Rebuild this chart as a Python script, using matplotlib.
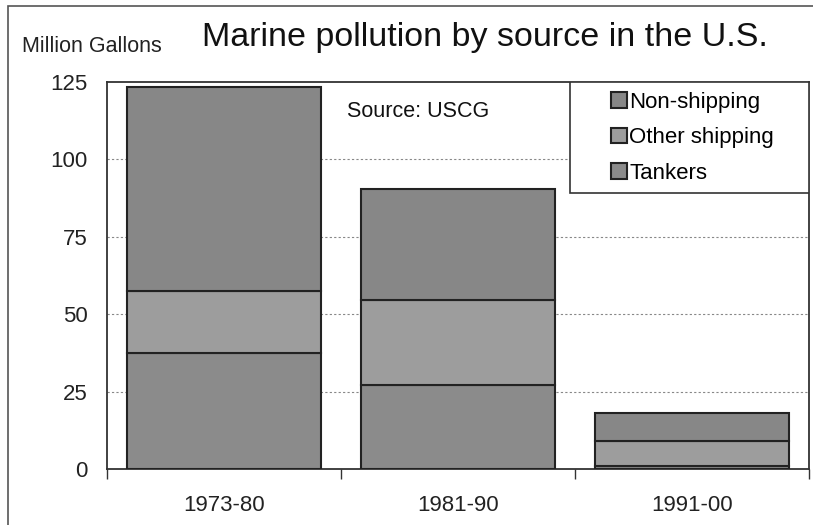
import matplotlib.pyplot as plt
from matplotlib.patches import Rectangle
import numpy as np

plt.rcParams['font.family'] = ['Liberation Sans', 'DejaVu Sans']

periods = ['1973-80', '1981-90', '1991-00']
tankers = [37.5, 27, 1]
other_shipping = [20, 27.5, 8]
non_shipping = [66, 36, 9]

fig = plt.figure(figsize=(8.13, 5.25), dpi=100)
ax = fig.add_axes([0.1316, 0.1067, 0.8635, 0.7371])

x = np.arange(len(periods))
w = 0.83
edge = dict(edgecolor='#222222', linewidth=1.5, zorder=3)
ax.bar(x, tankers, w, color='#8b8b8b', label='Tankers', **edge)
ax.bar(x, other_shipping, w, bottom=tankers, color='#9d9d9d', label='Other shipping', **edge)
bottom2 = [a + b for a, b in zip(tankers, other_shipping)]
ax.bar(x, non_shipping, w, bottom=bottom2, color='#878787', label='Non-shipping', **edge)

ax.set_xlim(-0.5, 2.5)
ax.set_ylim(0, 125)
ax.set_yticks([0, 25, 50, 75, 100, 125])
ax.set_xticks(x)
ax.set_xticklabels(periods)
ax.set_xticks([-0.5, 0.5, 1.5, 2.5], minor=True)
ax.tick_params(axis='x', which='major', length=0, pad=19, labelsize=16, labelcolor='#222222')
ax.tick_params(axis='x', which='minor', length=7, width=1, color='#333333')
ax.tick_params(axis='y', length=0, pad=14, labelsize=16, labelcolor='#222222')
for y in [25, 50, 75, 100]:
    ax.axhline(y, color='#888888', linestyle=(0, (2, 2)), linewidth=0.8, zorder=1)
for s in ax.spines.values():
    s.set_color('#333333')
    s.set_linewidth(1.3)

ax.text(0.342, 0.925, 'Source: USCG', transform=ax.transAxes, fontsize=15.5,
        va='center', ha='left', color='#111111')

# legend box
ax.add_patch(Rectangle((0.6595, 0.713), 0.3405, 0.287, transform=ax.transAxes,
                       facecolor='white', edgecolor='#333333', linewidth=1.2, zorder=4))
handles, labels = ax.get_legend_handles_labels()
leg = ax.legend(handles[::-1], labels[::-1], loc='upper left',
                bbox_to_anchor=(0.69, 1.027), frameon=False, fontsize=16,
                handlelength=0.7, handleheight=0.7, handletextpad=0.1,
                labelspacing=0.66)
leg.set_zorder(5)

fig.text(0.027, 0.911, 'Million Gallons', fontsize=15.5, va='center', ha='left',
         color='#222222')
fig.text(0.597, 0.928, 'Marine pollution by source in the U.S.', fontsize=24.5,
         va='center', ha='center', color='#111111')

# outer chart frame (left and top edges visible)
fig.patches.append(Rectangle((0.010, -0.1), 1.2, 1.088, transform=fig.transFigure,
                             fill=False, edgecolor='#555555', linewidth=1.2))

fig.savefig('out.png', dpi=100)
